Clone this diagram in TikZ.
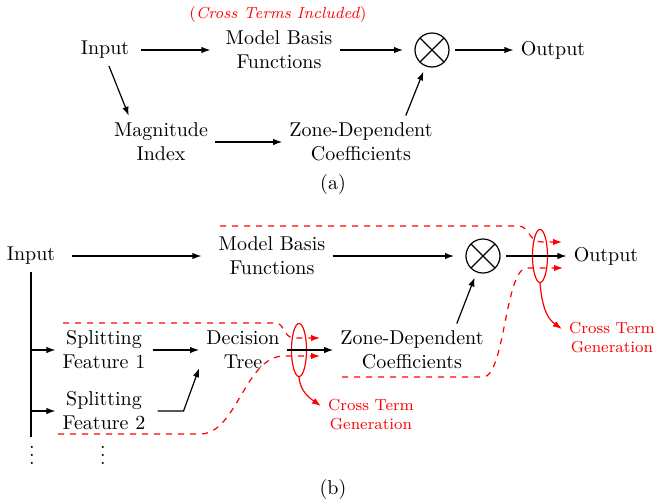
\documentclass[tikz,border=0pt]{standalone}
\usepackage{xcolor}
\usepackage{amsmath}
\usepackage{amssymb}
\usepackage{tikz}
\usetikzlibrary{arrows.meta,shapes.geometric}
\usetikzlibrary{positioning}

\begin{document}
\begin{tikzpicture}[->,>={Latex[length=4.5pt,width=3.2pt]},semithick,x=0.5pt,y=-0.5pt,
  block/.style={align=center},
  mult node/.style={circle,draw,minimum size=17pt,inner sep=0pt,outer sep=3pt,
    path picture={\draw[-] (path picture bounding box.north west) -- (path picture bounding box.south east)
      (path picture bounding box.north east) -- (path picture bounding box.south west);}},
  ct node/.style={ellipse,draw=red,minimum width=7.5pt,minimum height=26.5pt,inner sep=0pt},
  ct text/.style={align=center,text=red,font=\footnotesize},
  dots node/.style={inner sep=0pt,text height=9.1pt,text depth=0pt},
  xterm/.style={red,dashed}]

  \useasboundingbox (0,0) rectangle (655,499);

  \node (In) at (105,50) {Input};
  \node[block] (MBF) at (279,50) {Model Basis\\Functions};
  \node[mult node] (X) at (432,50) {};
  \node (Out) at (553,50) {Output};
  \node[block] (MI) at (161,142) {Magnitude\\Index};
  \node[block] (ZDC) at (361,142) {Zone-Dependent\\Coefficients};
  \node[text=red,font=\footnotesize] (CTI) at (278,14) {(\textit{Cross Terms Included})};
  \node (LabA) at (333,184) {(a)};

  \path
    (In) edge[shorten <=2.5pt,shorten >=4pt] (MBF)
    (MBF) edge[shorten >=3pt] (X)
    (X) edge (Out)
    (MI) edge (ZDC)
    ([xshift=2pt]In.south) edge ([xshift=11pt]MI.north west)
    ([xshift=-17pt]ZDC.north east) edge (X);

  \node (In2) at (31,256) {Input};
  \node[block] (MBF2) at (272,256) {Model Basis\\Functions};
  \node[mult node] (X2) at (483,256) {};
  \node (Out2) at (606,256) {Output};
  \node[block] (SF1) at (104,350) {Splitting\\Feature 1};
  \node[block] (SF2) at (104,411) {Splitting\\Feature 2};
  \node[block] (DT) at (243,350) {Decision\\Tree};
  \node[block] (ZDC2) at (412,350) {Zone-Dependent\\Coefficients};
  \node[ct node] (E1) at (299,350) {};
  \node[ct node] (E2) at (540,256) {};
  \node[ct text] (G1) at (371,415) {Cross Term\\Generation};
  \node[ct text] (G2) at (612,338) {Cross Term\\Generation};
  \node[dots node] (D1) at (32,455) {$\vdots$};
  \node[dots node] (D2) at (103,455) {$\vdots$};
  \node (LabB) at (333,489) {(b)};
  \coordinate (Vend) at (31,437);

  \draw[-] (In2.south) -- (Vend);
  \path
    (In2.south |- SF1) edge (SF1)
    (In2.south |- SF2) edge (SF2)
    (In2) edge[shorten <=5pt,shorten >=5pt] (MBF2)
    (MBF2) edge[shorten >=3pt] (X2)
    (X2) edge (Out2)
    (SF1) edge (DT)
    (DT) edge (ZDC2)
    ([xshift=-17pt]ZDC2.north east) edge (X2);
  \draw[shorten <=2.5pt] (SF2.east) -- ++(15.5pt,0) -- ([yshift=4pt]DT.south west);

  \draw[xterm] (220,226) -- (518,226) .. controls (530,226) and (528,242) .. (542,242) -- (562,242);
  \draw[xterm] (342,377) -- (483,377) .. controls (505,377) and (505,268) .. (527,268) -- (563,268);
  \draw[xterm] (63,323) -- (276,323) .. controls (284,323) and (284,338) .. (294,338) -- (320,338);
  \draw[xterm] (58,434) -- (200,434) .. controls (237,434) and (245,356) .. (284,356) -- (320,356);

  \draw[red] (E1.south) to[out=-85,in=145] ([yshift=4.5pt]G1.west);
  \draw[red] (E2.south) to[out=-85,in=145] ([yshift=4.5pt]G2.west);

\end{tikzpicture}
\end{document}
